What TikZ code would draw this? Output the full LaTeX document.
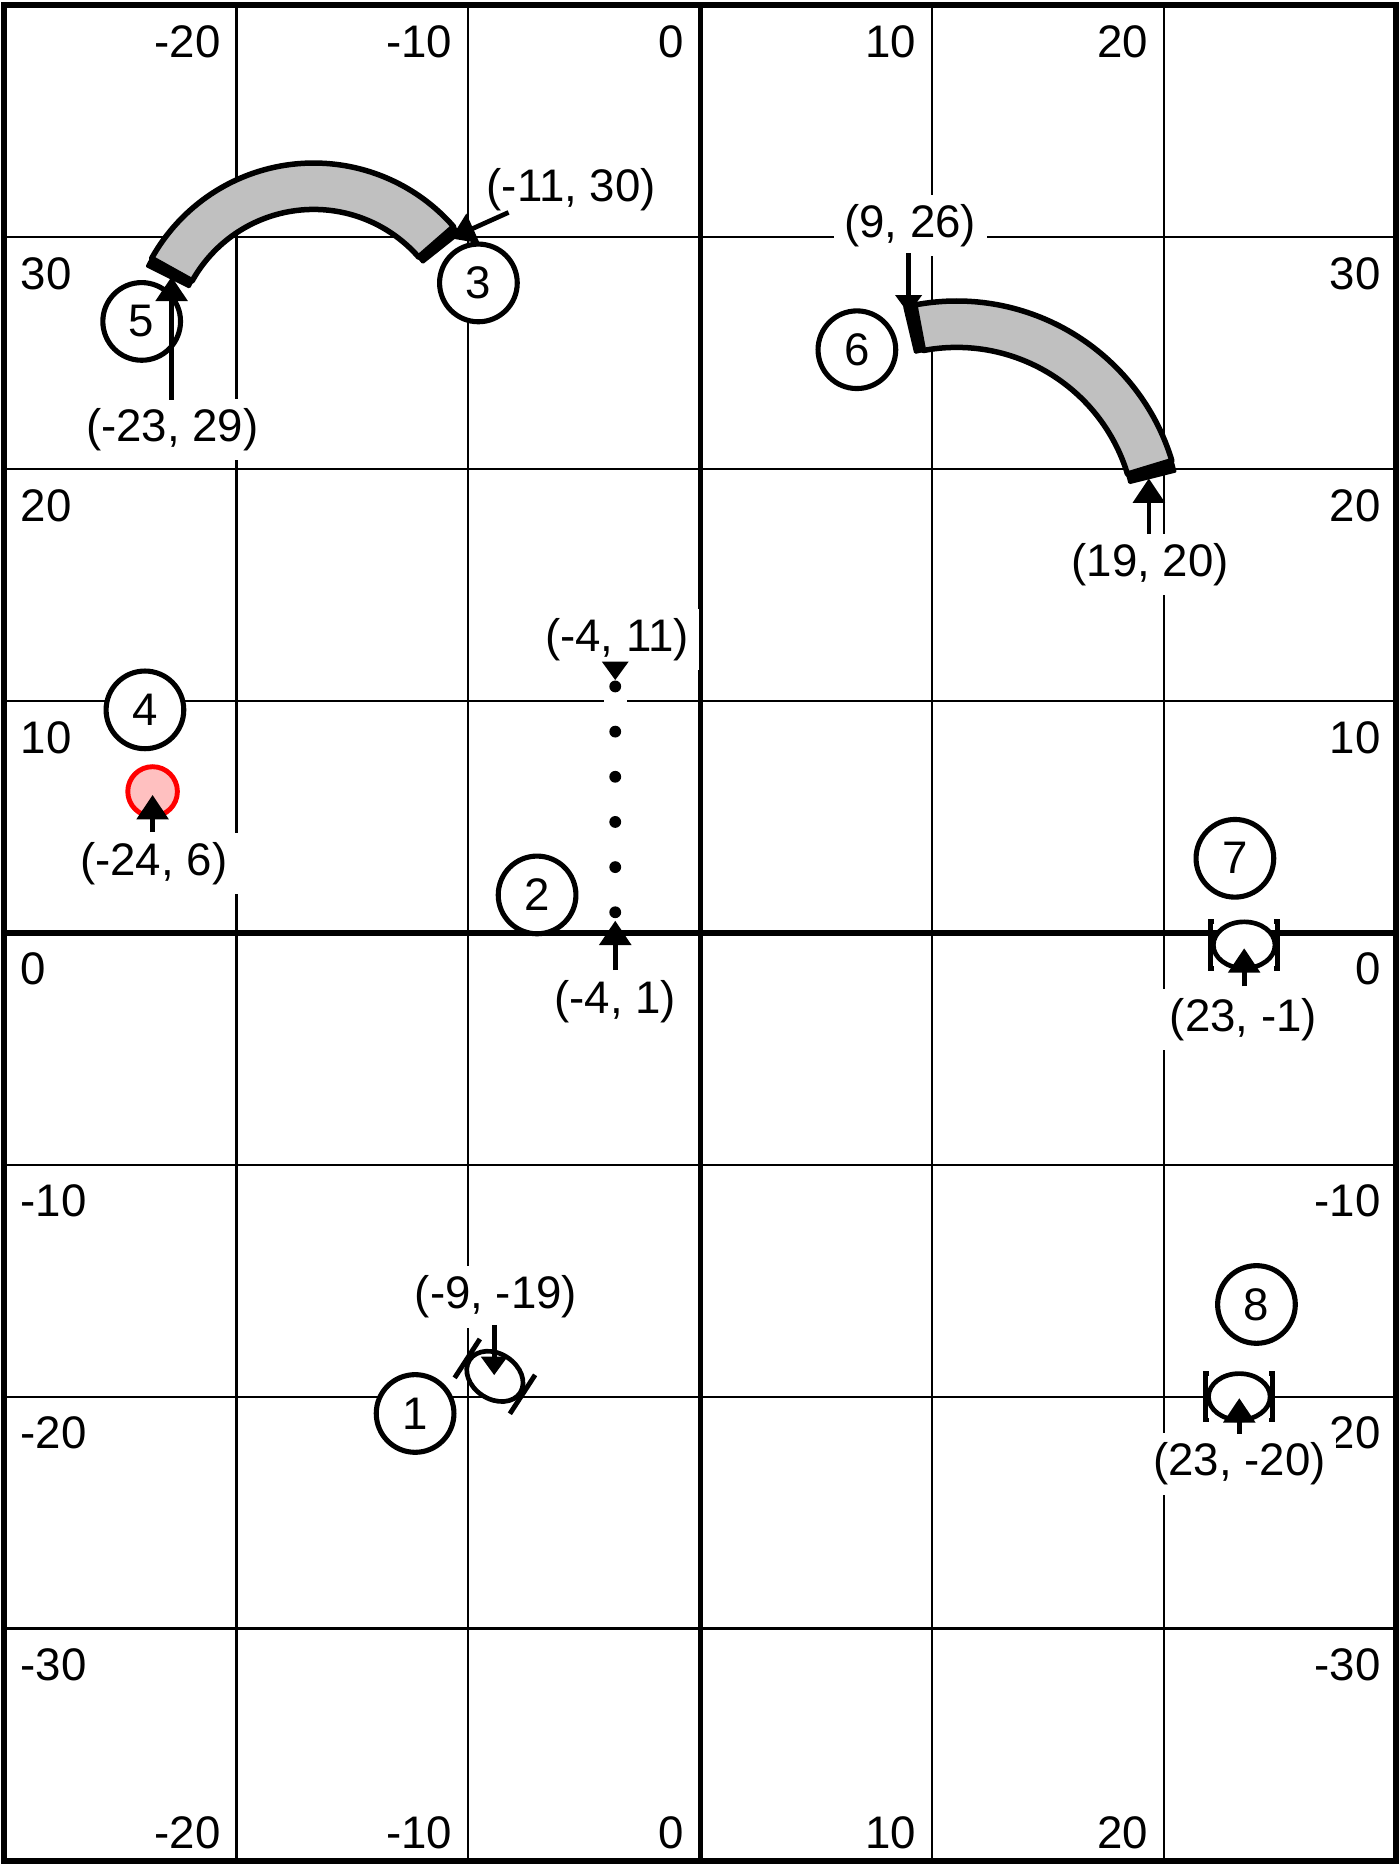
\documentclass[tikz,border=0pt]{standalone}
\usepackage{fontspec}
\newfontfamily\arialfont{Liberation Sans}
\usetikzlibrary{arrows.meta,calc}
\definecolor{bandgrey}{RGB}{192,192,192}
\definecolor{pinkfill}{RGB}{255,192,192}
\newcommand{\labfont}{\arialfont\fontsize{11.2}{13}\selectfont}
\begin{document}
\begin{tikzpicture}[x=0.2cm,y=0.2cm,
 gridline/.style={line width=0.6pt},
 axisline/.style={line width=1.25pt},
 frameline/.style={line width=1.45pt},
 ticklab/.style={font=\labfont, inner sep=0pt},
 coordlabel/.style={font=\labfont, fill=white, inner xsep=2.6pt, inner ysep=2.3pt},
 numcircle/.style={circle, draw, fill=white, line width=1.25pt, minimum size=0.67cm, inner sep=0pt, font=\labfont},
 pointer/.style={line width=1.15pt, -{Triangle[width=0.27cm,length=0.21cm]}},
 smallpointer/.style={line width=1.15pt, -{Triangle[width=0.22cm,length=0.16cm]}},
 band/.style={draw=black, fill=bandgrey, line width=1.35pt, line join=round},
 endcap/.style={fill=black, draw=black, line width=0.8pt, line join=round},
 sym/.style={draw=black, fill=white, line width=1.15pt},
 symbar/.style={draw=black, line width=1.2pt},
]
\useasboundingbox (-30.19,-40.19) rectangle (30.14,40.23);

% grid
\foreach \v in {-20,-10,10,20} \draw[gridline] (\v,-40) -- (\v,40);
\foreach \h in {-30,-20,-10,10,20,30} \draw[gridline] (-30,\h) -- (30,\h);
\draw[axisline] (0,-40) -- (0,40);
\draw[axisline] (-30,0) -- (30,0);
\draw[frameline] (-30,-40) rectangle (30,40);

% axis labels
\foreach \v [count=\i] in {-20,-10,0,10,20} {
  \node[ticklab, anchor=base east] (top\i) at (\v-0.65,37.76) {\v};
  \node[ticklab, anchor=base east] (bot\i) at (\v-0.65,-39.47) {\v};
}
\foreach \h [count=\i] in {30,20,10,0,-10,-20,-30} {
  \node[ticklab, anchor=base west] (left\i) at (-29.33,\h-2.24) {\h};
  \node[ticklab, anchor=base east] (right\i) at (29.37,\h-2.24) {\h};
}

% white track behind dotted line
\coordinate (d1) at (-3.66,10.63);
\coordinate (d2) at (-3.66,0.88);
\draw[white, line width=0.2cm] (d1) -- (d2);

% left arc band
\coordinate (Lc) at (-16.66,25.2);
\draw[band] ($(Lc)+(150.9:8)$) arc[start angle=150.9,end angle=41.1,radius=8]
  -- ($(Lc)+(41.1:6)$) arc[start angle=41.1,end angle=150.9,radius=6] -- cycle;
\draw[endcap] ($(Lc)+(150.9:8)$) arc[start angle=150.9,end angle=153.6,radius=8]
  -- ($(Lc)+(153.6:6)$) arc[start angle=153.6,end angle=150.9,radius=6] -- cycle;
\draw[endcap] ($(Lc)+(41.1:8)$) arc[start angle=41.1,end angle=38.4,radius=8]
  -- ($(Lc)+(38.4:6)$) arc[start angle=38.4,end angle=41.1,radius=6] -- cycle;

% right arc band
\coordinate (Rc) at (11.06,17.55);
\draw[band] ($(Rc)+(100.7:9.7)$) arc[start angle=100.7,end angle=16.9,radius=9.7]
  -- ($(Rc)+(16.9:7.7)$) arc[start angle=16.9,end angle=100.7,radius=7.7] -- cycle;
\draw[endcap] ($(Rc)+(100.7:9.7)$) arc[start angle=100.7,end angle=103.3,radius=9.7]
  -- ($(Rc)+(103.3:7.7)$) arc[start angle=103.3,end angle=100.7,radius=7.7] -- cycle;
\draw[endcap] ($(Rc)+(16.9:9.7)$) arc[start angle=16.9,end angle=14.1,radius=9.7]
  -- ($(Rc)+(14.1:7.7)$) arc[start angle=14.1,end angle=16.9,radius=7.7] -- cycle;

% red circle
\draw[draw=red, fill=pinkfill, line width=1.2pt] (-23.61,6.1) circle[radius=1.07];

% symbol 7
\begin{scope}[shift={(23.46,-0.52)}]
  \draw[sym] (0,0) ellipse[x radius=1.33,y radius=1.0];
  \draw[symbar] (-1.3,1) -- (-1.45,1) -- (-1.45,-1) -- (-1.3,-1);
  \draw[symbar] (1.3,1) -- (1.45,1) -- (1.45,-1) -- (1.3,-1);
\end{scope}
% symbol 8
\begin{scope}[shift={(23.25,-20.0)}]
  \draw[sym] (0,0) ellipse[x radius=1.33,y radius=1.0];
  \draw[symbar] (-1.3,1) -- (-1.45,1) -- (-1.45,-1) -- (-1.3,-1);
  \draw[symbar] (1.3,1) -- (1.45,1) -- (1.45,-1) -- (1.3,-1);
\end{scope}
% symbol 1
\begin{scope}[shift={(-8.85,-19.12)}, rotate=-33]
  \draw[sym] (0,0) ellipse[x radius=1.3,y radius=0.98];
  \draw[symbar] (-1.42,1) -- (-1.42,-1);
  \draw[symbar] (1.42,1) -- (1.42,-1);
\end{scope}

% numbered circles
\node[numcircle] (n1) at (-12.29,-20.72) {1};
\node[numcircle] (n2) at (-7.03,1.64) {2};
\node[numcircle] (n3) at (-9.56,28.03) {3};
\node[numcircle] (n4) at (-23.94,9.62) {4};
\node[numcircle] (n5) at (-24.08,26.37) {5};
\node[numcircle] (n6) at (6.76,25.15) {6};
\node[numcircle] (n7) at (23.06,3.22) {7};
\node[numcircle] (n8) at (23.99,-16.02) {8};

% coordinate labels
\node[coordlabel] (l5) at (-22.76,21.7) {(-23, 29)};
\node[coordlabel] (l3) at (-5.56,32.03) {(-11, 30)};
\node[coordlabel] (l6) at (9.06,30.5) {(9, 26)};
\node[coordlabel] (l6b) at (19.41,15.9) {(19, 20)};
\node[coordlabel] (l2t) at (-3.59,12.65) {(-4, 11)};
\node[coordlabel] (l2b) at (-3.66,-2.95) {(-4, 1)};
\node[coordlabel] (l4) at (-23.56,3.0) {(-24, 6)};
\node[coordlabel] (l7) at (23.43,-3.72) {(23, -1)};
\node[coordlabel] (l8) at (23.26,-22.9) {(23, -20)};
\node[coordlabel] (l1) at (-8.8,-15.7) {(-9, -19)};

% dotted line
\draw[line width=2.9pt, line cap=round, dash pattern=on 0pt off 0.3895cm] (d1) -- (d2);

% pointers
\coordinate (p5a) at (-22.79,23.0);  \coordinate (p5b) at (-22.79,28.3);
\coordinate (p3a) at (-8.26,31.07);  \coordinate (p3b) at (-10.75,29.95);
\coordinate (p6a) at (8.99,29.3);    \coordinate (p6b) at (8.99,26.7);
\coordinate (p6c) at (19.35,17.2);   \coordinate (p6d) at (19.35,19.6);
\coordinate (p2a) at (-3.66,11.6);   \coordinate (p2b) at (-3.66,10.9);
\coordinate (p2c) at (-3.66,-1.6);   \coordinate (p2d) at (-3.66,0.53);
\coordinate (p4a) at (-23.61,4.35);  \coordinate (p4b) at (-23.61,5.95);
\coordinate (p7a) at (23.46,-2.3);   \coordinate (p7b) at (23.46,-0.66);
\coordinate (p8a) at (23.25,-21.6);  \coordinate (p8b) at (23.25,-20.06);
\coordinate (p1a) at (-8.88,-16.9);  \coordinate (p1b) at (-8.88,-19.07);
\draw[pointer] (p5a) -- (p5b);
\draw[pointer] (p3a) -- (p3b);
\draw[smallpointer] (p6a) -- (p6b);
\draw[pointer] (p6c) -- (p6d);
\draw[smallpointer] (p2a) -- (p2b);
\draw[pointer] (p2c) -- (p2d);
\draw[pointer] (p4a) -- (p4b);
\draw[pointer] (p7a) -- (p7b);
\draw[pointer] (p8a) -- (p8b);
\draw[smallpointer] (p1a) -- (p1b);
\end{tikzpicture}
\end{document}
